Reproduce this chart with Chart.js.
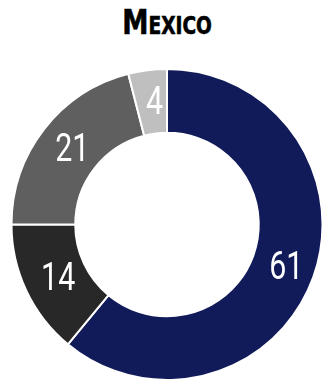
<!DOCTYPE html>
<html>
<head>
<script src="https://cdn.jsdelivr.net/npm/chart.js@4/dist/chart.umd.min.js"></script>
<style>
    body { margin: 0; background: #ffffff; }
    #title {
        height: 66px;
        text-align: center;
        font-family: "DejaVu Sans Condensed", "DejaVu Sans", sans-serif;
        font-weight: bold;
        font-variant: small-caps;
        font-size: 34px;
        line-height: 44px;
        color: #000;
        -webkit-text-stroke: 0.6px #000;
    }
    #title span { display: inline-block; transform: scaleX(0.86); }
    #wrap { width: 334px; height: 317px; position: relative; }
</style>
</head>
<body>
<div id="title"><span>Mexico</span></div>
<div id="wrap"><canvas id="myDoughnut"></canvas></div>
<script>
// data
var labels = ["A", "B", "C", "D"];
var values = [61, 14, 21, 4];
var colors = ["#121b5a", "#282828", "#5f5f5f", "#bfbfbf"];

// draws the value in the middle of every slice
var sliceLabels = {
    id: 'sliceLabels',
    afterDatasetsDraw: function (chart) {
        var ctx = chart.ctx;
        var meta = chart.getDatasetMeta(0);
        ctx.save();
        ctx.fillStyle = '#ffffff';
        ctx.font = '38px Roboto, sans-serif';
        ctx.textAlign = 'center';
        ctx.textBaseline = 'middle';
        meta.data.forEach(function (arc, i) {
            var p = arc.tooltipPosition();
            ctx.save();
            ctx.translate(p.x + 3, p.y + 3);
            ctx.scale(0.8, 1);
            ctx.fillText(String(values[i]), 0, 0);
            ctx.restore();
        });
        ctx.restore();
    }
};

var ctx = document.getElementById('myDoughnut').getContext('2d');
var chart = new Chart(ctx, {
    type: 'doughnut',
    data: {
        labels: labels,
        datasets: [{
            data: values,
            backgroundColor: colors,
            borderColor: '#ffffff',
            borderWidth: 2,
            hoverBorderWidth: 2
        }]
    },
    options: {
        responsive: true,
        maintainAspectRatio: false,
        animation: false,
        cutout: '59%',
        layout: { padding: { top: 2, bottom: 2 } },
        plugins: {
            legend: { display: false },
            tooltip: { enabled: false }
        }
    },
    plugins: [sliceLabels]
});
</script>
</body>
</html>
